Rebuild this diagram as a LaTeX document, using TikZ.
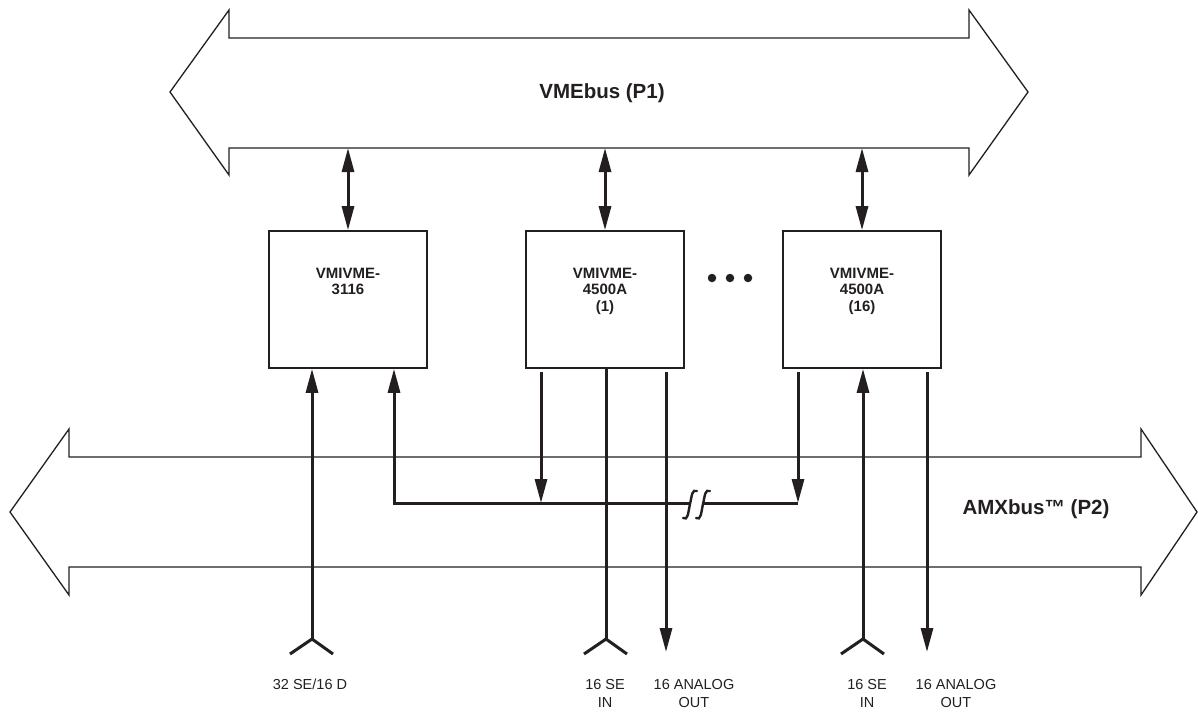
\documentclass[tikz,border=0pt]{standalone}
\usepackage{fontspec}
\setmainfont{Liberation Sans}
\usetikzlibrary{arrows.meta,calc}
\definecolor{ink}{RGB}{35,31,32}
\begin{document}
\begin{tikzpicture}[x=1pt,y=-1pt,
  >={Triangle[length=24pt,width=12pt]},
  bus/.style={draw=ink,line width=1.3pt,line join=miter},
  box/.style={draw=ink,line width=1.6pt,minimum width=158pt,minimum height=137pt,inner sep=0pt},
  conn/.style={draw=ink,line width=3pt},
  brk/.style={draw=ink,line width=2.4pt,line cap=round},
  boxtxt/.style={font=\fontsize{15}{16.8}\selectfont\bfseries,align=center,inner sep=0pt,anchor=north,text=ink},
  buslbl/.style={font=\fontsize{20.5}{24}\selectfont\bfseries,text=ink,inner sep=0pt},
  lbl/.style={font=\fontsize{14.5}{18}\selectfont,align=center,anchor=north,inner sep=0pt,text=ink},
  dot/.style={fill=ink,draw=none,circle,minimum size=8.5pt,inner sep=0pt}]
\useasboundingbox (0,0) rectangle (1198,713);
% buses
\draw[bus] (170,92) -- (229,10) -- (229,38) -- (969,38) -- (969,10) -- (1028,92)
  -- (969,175) -- (969,148) -- (229,148) -- (229,175) -- cycle;
\draw[bus] (10,512) -- (69,429) -- (69,457) -- (1141,457) -- (1141,429) -- (1197,512)
  -- (1141,595) -- (1141,567) -- (69,567) -- (69,595) -- cycle;
\node[buslbl] (vme) at (602,93) {VMEbus (P1)};
\node[buslbl] (amx) at (1036,509) {AMXbus™ (P2)};
% boxes
\node[box] (b1) at (348,299.5) {};
\node[box] (b2) at (605,299.5) {};
\node[box] (b3) at (862,299.5) {};
\node[boxtxt] (t1) at (348,267.5) {VMIVME-\\3116};
\node[boxtxt] (t2) at (605,267.5) {VMIVME-\\4500A\\(1)};
\node[boxtxt] (t3) at (862,267.5) {VMIVME-\\4500A\\(16)};
\node[dot] (d1) at (712,278) {};
\node[dot] (d2) at (730,278) {};
\node[dot] (d3) at (748,278) {};
% VME connections
\coordinate (v1) at (348,148);
\coordinate (v2) at (605,148);
\coordinate (v3) at (862,148);
\draw[conn,<->] (v1) -- (b1.north);
\draw[conn,<->] (v2) -- (b2.north);
\draw[conn,<->] (v3) -- (b3.north);
% coordinates
\coordinate (f1) at (312,639);
\coordinate (f2) at (606,639);
\coordinate (f3) at (863,639);
\coordinate (h1) at (394,503);
\coordinate (s2) at (541,372);
\coordinate (e2) at (541,503);
\coordinate (s3) at (798,372);
\coordinate (e3) at (798,503);
\coordinate (bl) at (690,503);
\coordinate (br) at (703,503);
\coordinate (so2) at (666,372);
\coordinate (o2) at (666,652);
\coordinate (so3) at (927,372);
\coordinate (o3) at (927,652);
% box 1
\draw[conn,->] (f1) -- (f1 |- b1.south);
\draw[conn,<-] (h1 |- b1.south) -- (h1) -- (bl);
\draw[conn] (br) -- (e3);
\draw[brk] (683,518) .. controls (688,521) and (688,513) .. (690,504) .. controls (692,495) and (692,489) .. (697,491);
\draw[brk] (696,518) .. controls (701,521) and (701,513) .. (703,504) .. controls (705,495) and (705,489) .. (710,491);
% box 2
\draw[conn,->] (s2) -- (e2);
\draw[conn] (f2 |- b2.south) -- (f2);
\draw[conn,->] (so2) -- (o2);
% box 3
\draw[conn,->] (s3) -- (e3);
\draw[conn,->] (f3) -- (f3 |- b3.south);
\draw[conn,->] (so3) -- (o3);
% forks
\foreach \f in {f1,f2,f3}{
  \draw[conn,line join=miter] ($(\f)+(-22,15)$) -- (\f) -- ($(\f)+(21,15)$);
}
% labels
\node[lbl] (l1) at (310,679) {32 SE/16 D};
\node[lbl] (l2) at (605,679) {16 SE\\IN};
\node[lbl] (l3) at (694,679) {16 ANALOG\\OUT};
\node[lbl] (l4) at (867,679) {16 SE\\IN};
\node[lbl] (l5) at (956,679) {16 ANALOG\\OUT};
\end{tikzpicture}
\end{document}
